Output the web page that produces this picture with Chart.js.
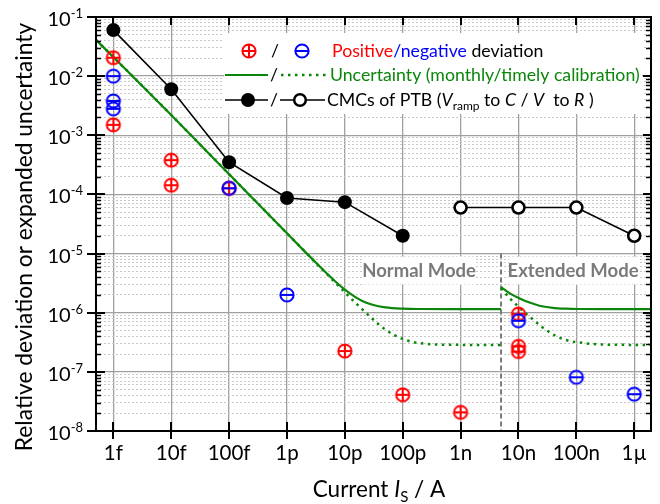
<!DOCTYPE html>
<html>
<head>
<meta charset="utf-8">
<script src="https://cdn.jsdelivr.net/npm/chart.js@4.4.1/dist/chart.umd.min.js"></script>
<style>
  html, body { margin: 0; padding: 0; background: #fff; }
</style>
</head>
<body>
<canvas id="myChart" width="660" height="504"></canvas>
<script>
// currents in A, values are relative deviation / relative expanded uncertainty
const decades = [1e-15, 1e-14, 1e-13, 1e-12, 1e-11, 1e-10, 1e-9, 1e-8, 1e-7, 1e-6];
const decadeLabels = ["1f", "10f", "100f", "1p", "10p", "100p", "1n", "10n", "100n", "1µ"];
const yDecades = [1e-8, 1e-7, 1e-6, 1e-5, 1e-4, 1e-3, 1e-2, 1e-1];
const yExponents = ["-8", "-7", "-6", "-5", "-4", "-3", "-2", "-1"];
const minorSteps = [2, 3, 4, 5, 6, 7, 8, 9];
const modeBoundary = 5e-9;

const posCurrent = [1e-15, 1e-15, 1e-14, 1e-14, 1e-13, 1e-11, 1e-10, 1e-9, 1e-8, 1e-8, 1e-8];
const posDeviation = [2.05e-2, 1.5e-3, 3.8e-4, 1.43e-4, 1.27e-4, 2.25e-7, 4.1e-8, 2.07e-8, 9.5e-7, 2.7e-7, 2.2e-7];

const negCurrent = [1e-15, 1e-15, 1e-15, 1e-13, 1e-12, 1e-8, 1e-7, 1e-6];
const negDeviation = [1.0e-2, 3.8e-3, 2.8e-3, 1.27e-4, 2.0e-6, 7.3e-7, 8.1e-8, 4.2e-8];

const cmcRampCurrent = [1e-15, 1e-14, 1e-13, 1e-12, 1e-11, 1e-10];
const cmcRamp = [6e-2, 6e-3, 3.5e-4, 8.7e-5, 7.4e-5, 2e-5];
const cmcResCurrent = [1e-9, 1e-8, 1e-7, 1e-6];
const cmcRes = [6e-5, 6e-5, 6e-5, 2e-5];

const normalCurrent = [5.01e-16, 1e-15, 1e-14, 1e-13, 1e-12, 2e-12, 3e-12, 5e-12, 7e-12, 1e-11, 1.5e-11, 2e-11, 3e-11, 5e-11, 1e-10, 2e-10, 1e-9, 5e-9];
const normalMonthly = [4.1e-2, 2.1e-2, 2.2e-3, 2.2e-4, 2.2e-5, 1.1e-5, 7.4e-6, 4.5e-6, 3.3e-6, 2.45e-6, 1.85e-6, 1.58e-6, 1.36e-6, 1.23e-6, 1.17e-6, 1.155e-6, 1.15e-6, 1.15e-6];
const normalTimely = [4.1e-2, 2.1e-2, 2.2e-3, 2.2e-4, 2.2e-5, 1.1e-5, 7.3e-6, 4.4e-6, 3.15e-6, 2.2e-6, 1.49e-6, 1.14e-6, 7.9e-7, 5.2e-7, 3.6e-7, 3.05e-7, 2.86e-7, 2.85e-7];

const extMonthlyCurrent = [5e-9, 7.2e-9, 1.07e-8, 1.6e-8, 2.3e-8, 3.9e-8, 6.6e-8, 1.1e-7, 3e-7, 1.95e-6];
const extMonthly = [2.7e-6, 2.1e-6, 1.73e-6, 1.47e-6, 1.31e-6, 1.21e-6, 1.17e-6, 1.155e-6, 1.15e-6, 1.15e-6];
const extTimelyCurrent = [5e-9, 6.7e-9, 8.7e-9, 1.38e-8, 1.78e-8, 2.4e-8, 3.2e-8, 4.3e-8, 5.8e-8, 7.9e-8, 1.1e-7, 2e-7, 5e-7, 1.95e-6];
const extTimely = [2.6e-6, 1.86e-6, 1.44e-6, 9.4e-7, 7.7e-7, 6.0e-7, 4.9e-7, 4.1e-7, 3.6e-7, 3.3e-7, 3.15e-7, 2.95e-7, 2.87e-7, 2.85e-7];

const RED = "#ff0000", BLUE = "#0000ff", GREEN = "#0b860b", GRAY = "#7a7a7a";
const FONT = "Lato, 'Open Sans', sans-serif";

const pts = (xs, ys) => xs.map((x, i) => ({ x: x, y: ys[i] }));

function makeMarker(color, plus) {
  const c = document.createElement("canvas");
  c.width = 18; c.height = 18;
  const g = c.getContext("2d");
  g.strokeStyle = color;
  g.lineWidth = 2;
  g.beginPath(); g.arc(9, 9, 6.6, 0, 2 * Math.PI); g.stroke();
  g.beginPath();
  g.moveTo(2.4, 9); g.lineTo(15.6, 9);
  if (plus) { g.moveTo(9, 2.4); g.lineTo(9, 15.6); }
  g.stroke();
  return c;
}
const plusMarker = makeMarker(RED, true);
const minusMarker = makeMarker(BLUE, false);

function drawRich(ctx, x, y, parts, align) {
  let w = 0;
  parts.forEach(p => { ctx.font = p[2]; w += ctx.measureText(p[0]).width; });
  let cx = align === "center" ? x - w / 2 : (align === "right" ? x - w : x);
  ctx.textAlign = "left";
  ctx.textBaseline = "alphabetic";
  parts.forEach(p => {
    ctx.font = p[2];
    ctx.fillStyle = p[1];
    ctx.fillText(p[0], cx, y + (p[3] || 0));
    cx += ctx.measureText(p[0]).width;
  });
}

// legend box, mode labels and boundary line
const annotations = {
  id: "annotations",
  beforeDatasetsDraw(chart) {
    const { ctx, scales } = chart;
    const bx = scales.x.getPixelForValue(modeBoundary);
    const yTop = scales.y.getPixelForValue(1e-5);
    const bottom = chart.chartArea.bottom;
    ctx.save();
    ctx.fillStyle = "#fff";
    ctx.fillRect(224, 33, 418, 81);
    ctx.fillRect(bx - 137, yTop + 3, 110, 28);
    ctx.fillRect(bx + 8, yTop + 3, 130, 28);
    ctx.strokeStyle = GRAY;
    ctx.lineWidth = 2;
    ctx.setLineDash([5, 3]);
    ctx.beginPath(); ctx.moveTo(bx, yTop); ctx.lineTo(bx, bottom); ctx.stroke();
    ctx.setLineDash([]);
    ctx.font = "bold 18.5px " + FONT;
    ctx.fillStyle = GRAY;
    ctx.textAlign = "center";
    ctx.textBaseline = "middle";
    ctx.fillText("Normal Mode", bx - 82, yTop + 17);
    ctx.fillText("Extended Mode", bx + 72, yTop + 17);

    // legend
    const f = "17.7px " + FONT, fi = "italic 17.7px " + FONT, fs = "12px " + FONT;
    const r1 = 51, r2 = 75, r3 = 100;
    ctx.drawImage(plusMarker, 249 - 9, r1 - 9);
    ctx.drawImage(minusMarker, 302 - 9, r1 - 9);
    drawRich(ctx, 275, r1 + 6, [["/", "#000", f]], "center");
    drawRich(ctx, 332, r1 + 6, [["Positive", RED, f], ["/negative", BLUE, f], [" deviation", "#000", f]]);

    ctx.strokeStyle = GREEN; ctx.lineWidth = 2.2;
    ctx.beginPath(); ctx.moveTo(225, r2); ctx.lineTo(268, r2); ctx.stroke();
    ctx.lineWidth = 2.5; ctx.setLineDash([2.5, 4.5]);
    ctx.beginPath(); ctx.moveTo(281, r2); ctx.lineTo(326, r2); ctx.stroke();
    ctx.setLineDash([]);
    drawRich(ctx, 274, r2 + 6, [["/", "#000", f]], "center");
    drawRich(ctx, 330, r2 + 6, [["Uncertainty (monthly/timely calibration)", GREEN, f]]);

    ctx.strokeStyle = "#000"; ctx.lineWidth = 1.6;
    ctx.beginPath(); ctx.moveTo(225, r3); ctx.lineTo(268, r3); ctx.moveTo(280, r3); ctx.lineTo(325, r3); ctx.stroke();
    ctx.fillStyle = "#000";
    ctx.beginPath(); ctx.arc(248, r3, 7, 0, 2 * Math.PI); ctx.fill();
    ctx.fillStyle = "#fff"; ctx.lineWidth = 2.5;
    ctx.beginPath(); ctx.arc(300, r3, 5.8, 0, 2 * Math.PI); ctx.fill(); ctx.stroke();
    drawRich(ctx, 274, r3 + 6, [["/", "#000", f]], "center");
    drawRich(ctx, 327, r3 + 6, [
      ["CMCs of PTB (", "#000", f], ["V", "#000", fi], ["ramp", "#000", fs, 4],
      [" to ", "#000", f], ["C", "#000", fi], [" / ", "#000", f], ["V", "#000", fi],
      ["  to ", "#000", f], ["R", "#000", fi], [" )", "#000", f]
    ]);
    ctx.restore();
  },
  afterDatasetsDraw(chart) {
    const { ctx, chartArea: a, scales } = chart;
    ctx.save();
    ctx.strokeStyle = "#000";
    ctx.lineWidth = 2;
    ctx.strokeRect(a.left, a.top, a.right - a.left, a.bottom - a.top);
    ctx.beginPath();
    decades.forEach(v => {
      const x = Math.round(scales.x.getPixelForValue(v));
      ctx.moveTo(x, a.bottom - 9); ctx.lineTo(x, a.bottom + 8);
      ctx.moveTo(x, a.top); ctx.lineTo(x, a.top + 8);
    });
    yDecades.forEach(v => {
      const y = Math.round(scales.y.getPixelForValue(v));
      ctx.moveTo(a.left - 9, y); ctx.lineTo(a.left + 9, y);
      ctx.moveTo(a.right - 8, y); ctx.lineTo(a.right, y);
    });
    ctx.stroke();
    ctx.lineWidth = 1.5;
    ctx.beginPath();
    scales.yMinor.ticks.forEach(t => {
      const y = Math.round(scales.yMinor.getPixelForValue(t.value)) + 0.5;
      ctx.moveTo(a.left, y); ctx.lineTo(a.left + 5, y);
      ctx.moveTo(a.right - 5, y); ctx.lineTo(a.right, y);
    });
    ctx.stroke();

    // y tick labels with superscript exponents
    yDecades.forEach((v, i) => {
      const y = scales.y.getPixelForValue(v);
      drawRich(ctx, 83, y + 9, [["10", "#000", "20px " + FONT], [yExponents[i], "#000", "13px " + FONT, -8]], "right");
    });
    // axis titles
    drawRich(ctx, 379, 497, [["Current ", "#000", "22.5px " + FONT], ["I", "#000", "italic 22.5px " + FONT], ["S", "#000", "15px " + FONT, 5], [" / A", "#000", "22.5px " + FONT]], "center");
    ctx.save();
    ctx.translate(25, 237);
    ctx.rotate(-Math.PI / 2);
    ctx.font = "22.8px " + FONT;
    ctx.fillStyle = "#000";
    ctx.textAlign = "center";
    ctx.textBaseline = "middle";
    ctx.fillText("Relative deviation or expanded uncertainty", 0, 0);
    ctx.restore();
    ctx.restore();
  }
};

const ctx = document.getElementById("myChart").getContext("2d");
const myChart = new Chart(ctx, {
  type: "scatter",
  data: {
    datasets: [
      { data: pts(negCurrent, negDeviation), pointStyle: minusMarker, pointRadius: 8, showLine: false, order: 0 },
      { data: pts(posCurrent, posDeviation), pointStyle: plusMarker, pointRadius: 8, showLine: false, order: 1 },
      { data: pts(cmcRampCurrent, cmcRamp), showLine: true, borderColor: "#000", borderWidth: 1.6,
        pointRadius: 7, pointBackgroundColor: "#000", pointBorderWidth: 0, order: 2 },
      { data: pts(cmcResCurrent, cmcRes), showLine: true, borderColor: "#000", borderWidth: 1.6,
        pointRadius: 6, pointBackgroundColor: "#fff", pointBorderColor: "#000", pointBorderWidth: 2.6, order: 3 },
      { data: pts(normalCurrent, normalMonthly), showLine: true, borderColor: GREEN, borderWidth: 2.2,
        pointRadius: 0, cubicInterpolationMode: "monotone", order: 4 },
      { data: pts(normalCurrent, normalTimely), showLine: true, borderColor: GREEN, borderWidth: 2.5, borderDash: [2.5, 4.5],
        pointRadius: 0, cubicInterpolationMode: "monotone", order: 5 },
      { data: pts(extMonthlyCurrent, extMonthly), showLine: true, borderColor: GREEN, borderWidth: 2.2,
        pointRadius: 0, cubicInterpolationMode: "monotone", order: 6 },
      { data: pts(extTimelyCurrent, extTimely), showLine: true, borderColor: GREEN, borderWidth: 2.5, borderDash: [2.5, 4.5],
        pointRadius: 0, cubicInterpolationMode: "monotone", order: 7 }
    ]
  },
  options: {
    responsive: false,
    animation: false,
    layout: { padding: { top: 17, left: 0, right: 0, bottom: 0 } },
    plugins: { legend: { display: false }, tooltip: { enabled: false } },
    scales: {
      x: {
        type: "logarithmic",
        min: Math.pow(10, -15.3),
        max: Math.pow(10, -5.71),
        afterBuildTicks: s => { s.ticks = decades.map(v => ({ value: v })); },
        ticks: {
          callback: (v, i) => decadeLabels[i],
          font: { family: FONT, size: 20.5 },
          color: "#000",
          padding: 10,
          maxRotation: 0,
          autoSkip: false
        },
        grid: { color: "#a0a0a0", lineWidth: 1.3, drawTicks: false },
        border: { display: false },
        afterFit: s => { s.height = 73; }
      },
      y: {
        type: "logarithmic",
        min: 1e-8,
        max: 1e-1,
        afterBuildTicks: s => { s.ticks = yDecades.map(v => ({ value: v })); },
        ticks: { display: false },
        grid: { color: "#a0a0a0", lineWidth: 1.3, drawTicks: false },
        border: { display: false },
        afterFit: s => { s.width = 96; }
      },
      yMinor: {
        type: "logarithmic",
        position: "left",
        min: 1e-8,
        max: 1e-1,
        afterBuildTicks: s => {
          const t = [];
          yDecades.slice(0, -1).forEach(d => minorSteps.forEach(m => t.push({ value: m * d })));
          s.ticks = t;
        },
        ticks: { display: false },
        grid: { color: "#c8c8c8", lineWidth: 1, drawTicks: false },
        border: { display: false, dash: [2, 2] },
        afterFit: s => { s.width = 0; }
      }
    }
  },
  plugins: [annotations]
});
</script>
</body>
</html>
